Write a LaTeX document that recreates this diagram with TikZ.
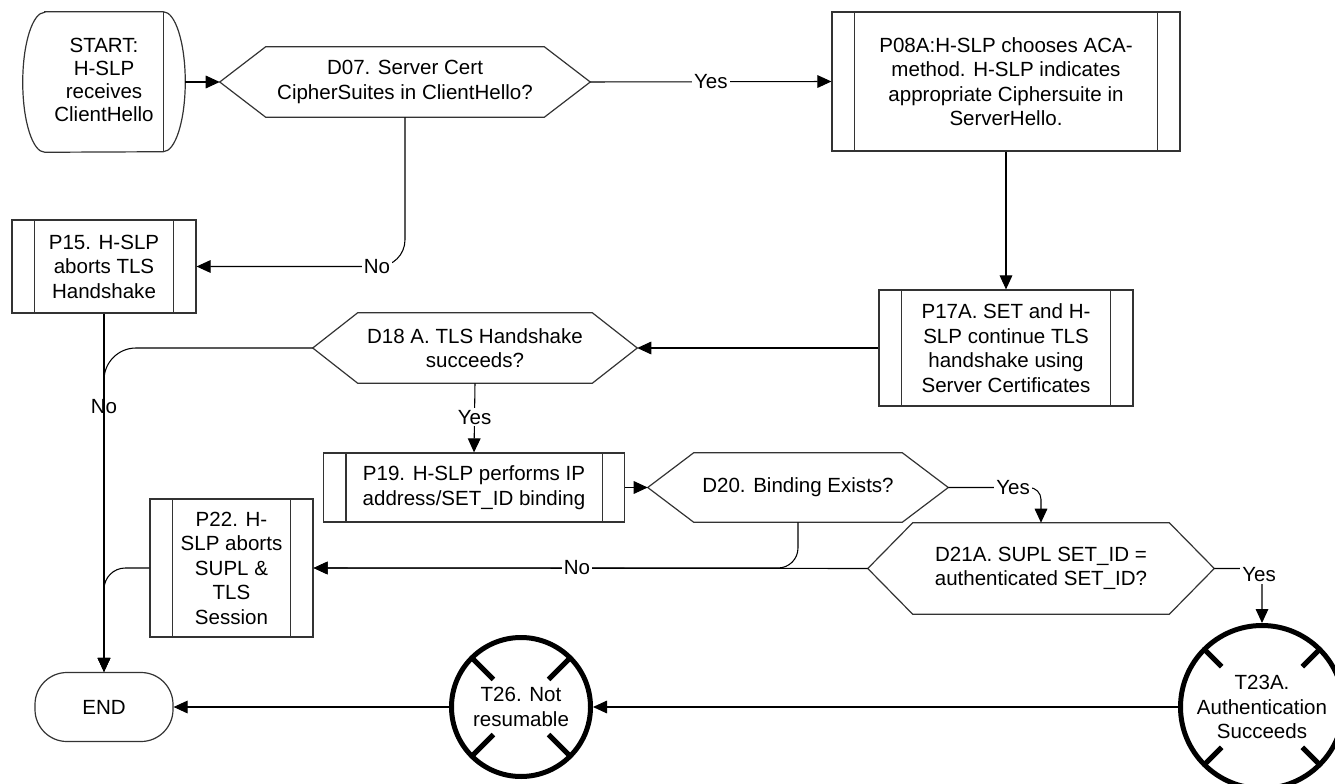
\documentclass[tikz,border=0pt]{standalone}
\usepackage{fontspec}
\setmainfont{Liberation Sans}
\usetikzlibrary{arrows.meta,calc}

\begin{document}
\begin{tikzpicture}[x=0.75pt,y=-0.75pt,
  every node/.style={font=\fontsize{15.4pt}{18.4pt}\selectfont, align=center, inner sep=0pt},
  procbox/.style={rectangle, draw=black!80, line width=0.9pt},
  hexa/.style={rectangle, draw=none},
  shp/.style={draw=black!80, line width=0.9pt},
  conn/.style={draw=black, line width=0.8pt},
  arr/.style={conn, -{Triangle[length=10.5pt,width=9.5pt]}},
  lbl/.style={fill=white, inner sep=1.5pt},
  term/.style={circle, draw=black, line width=3.75pt, inner sep=0pt},
  xmark/.style={draw=black, line width=3.75pt},
]
\useasboundingbox (0,0) rectangle (1335,784);
\clip (0,0) rectangle (1335,784);

% ---------- nodes ----------
\node[hexa, minimum width=121.5pt, minimum height=105pt,
  font=\fontsize{15.4pt}{17.2pt}\selectfont] (START) at (104,80)
  {START:\\H-SLP\\receives\\ClientHello};
\node[hexa, minimum width=277.5pt, minimum height=52.5pt] (D07) at (405,82)
  {D07. Server Cert\\CipherSuites in ClientHello?};
\node[procbox, minimum width=261pt, minimum height=104.25pt] (P08A) at (1006,81.5)
  {P08A:H-SLP chooses ACA-\\method. H-SLP indicates\\appropriate Ciphersuite in\\ServerHello.};
\node[procbox, minimum width=138pt, minimum height=69.75pt] (P15) at (104,266.5)
  {P15. H-SLP\\aborts TLS\\Handshake};
\node[procbox, minimum width=190.5pt, minimum height=87pt] (P17A) at (1006,348)
  {P17A. SET and H-\\SLP continue TLS\\handshake using\\Server Certificates};
\node[hexa, minimum width=243pt, minimum height=52.5pt] (D18) at (475,348)
  {D18 A. TLS Handshake\\succeeds?};
\node[procbox, minimum width=225.75pt, minimum height=51.75pt] (P19) at (474,487.5)
  {P19. H-SLP performs IP\\address/SET\_ID binding};
\node[hexa, minimum width=225pt, minimum height=51.75pt] (D20) at (798,487.5)
  {D20. Binding Exists?};
\node[hexa, minimum width=259.5pt, minimum height=68.25pt] (D21A) at (1041,568.5)
  {D21A. SUPL SET\_ID =\\authenticated SET\_ID?};
\node[procbox, minimum width=122.25pt, minimum height=103.5pt] (P22) at (231.5,568)
  {P22. H-\\SLP aborts\\SUPL \&\\TLS\\Session};
\node[draw=black!80, line width=0.9pt, rectangle, rounded corners=24pt,
  minimum width=103.5pt, minimum height=51.75pt] (END) at (104,707) {END};
\node[term, minimum size=104.25pt] (T26) at (521,707) {T26. Not\\resumable};
\node[term, minimum size=122.25pt] (T23A) at (1262,707) {T23A.\\Authentication\\Succeeds};

% ---------- shape details ----------
\draw[shp] ($(START.north west)+(22,2)$) -- ($(START.north east)+(-22,2)$)
  arc[start angle=-90, end angle=90, x radius=22, y radius=70]
  -- ($(START.south west)+(22,2)$)
  arc[start angle=90, end angle=270, x radius=22, y radius=70] -- cycle;
\draw[shp] ($(START.north east)+(-22,2)$) -- ($(START.south east)+(-22,2)$);

\foreach \n in {P08A,P15,P17A,P19,P22} {
  \draw[shp] ($(\n.north west)+(23,0)$) -- ($(\n.south west)+(23,0)$);
  \draw[shp] ($(\n.north east)+(-23,0)$) -- ($(\n.south east)+(-23,0)$);
}

\foreach \n/\i in {D07/46,D18/45,D20/46,D21A/45} {
  \draw[shp] (\n.west) -- ($(\n.north west)+(\i,0)$) -- ($(\n.north east)+(-\i,0)$)
    -- (\n.east) -- ($(\n.south east)+(-\i,0)$) -- ($(\n.south west)+(\i,0)$) -- cycle;
}

\foreach \a in {45,135,225,315} {
  \draw[xmark] ($(T26.center)+(\a:39)$) -- ($(T26.center)+(\a:69.5)$);
  \draw[xmark] ($(T23A.center)+(\a:57)$) -- ($(T23A.center)+(\a:81.5)$);
}

% ---------- connectors ----------
\coordinate (startout) at ($(START.east)+(0,2)$);
\draw[arr] (startout) -- (D07.west);
\draw[arr] (D07.east) -- (P08A.west) node[lbl, pos=0.5] (yes1) {Yes};
\draw[arr, rounded corners=20pt] (D07.south) |- (P15.east);
\node[lbl] (no1) at (377,266.5) {No};
\draw[arr] (P08A.south) -- (P17A.north);
\draw[arr] (P17A.west) -- (D18.east);
\draw[arr] (P15.south) -- (END.north);
\draw[arr, rounded corners=24pt] (D18.west) -| (END.north);
\node (no2) at (104,407) {No};
\draw[arr] (D18.south) -- (P19.north) node[lbl, pos=0.49] (yes2) {Yes};
\draw[arr] (P19.east) -- (D20.west);
\draw[arr, rounded corners=9pt] (D20.east) -| (D21A.north);
\node[lbl] (yes3) at (1013,487.5) {Yes};
\draw[arr, rounded corners=15pt] (D20.south) |- (P22.east);
\draw[arr] (D21A.west) -- (P22.east);
\node[lbl] (no3) at (577,568) {No};
\draw[arr, rounded corners=9pt] (D21A.east) -| (T23A.north);
\node[lbl] (yes4) at (1259,575) {Yes};
\draw[arr, rounded corners=16pt] (P22.west) -| (END.north);
\draw[arr] (T23A.west) -- (T26.east);
\draw[arr] (T26.west) -- (END.east);
\end{tikzpicture}
\end{document}
